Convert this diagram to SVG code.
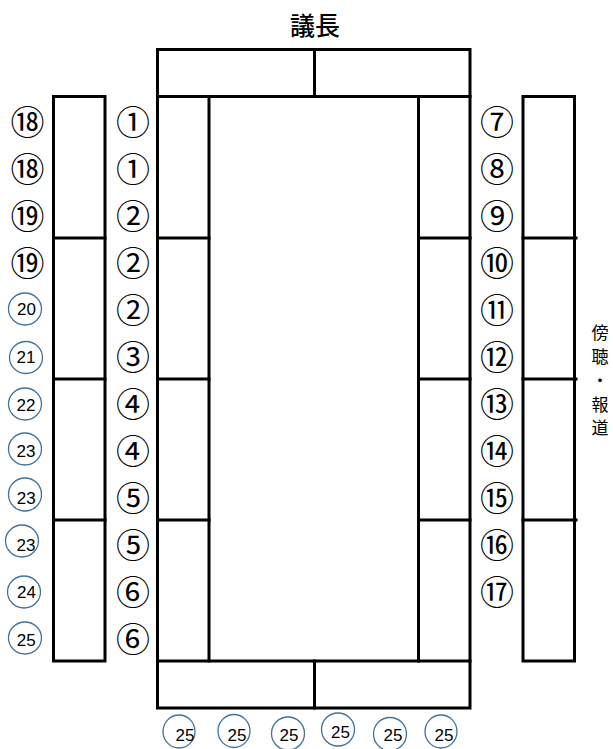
<svg xmlns="http://www.w3.org/2000/svg" width="613" height="749" viewBox="0 0 613 749">
<style>
.ln{fill:none;stroke:#000;stroke-width:3;stroke-linecap:square}
.cn{font-family:"Noto Sans CJK JP","DejaVu Sans",sans-serif;font-size:34px;text-anchor:middle;dominant-baseline:central;fill:#000}
.bc{fill:#fff;stroke:#41719c;stroke-width:1.3}
.bt{font-family:"Liberation Sans",Arial,sans-serif;font-size:17px;text-anchor:middle;fill:#000}
.tt{font-family:"Noto Sans CJK JP",sans-serif;fill:#000}
.gv{font-family:"Noto Sans CJK JP",sans-serif;font-size:17px;text-anchor:middle;fill:#000}
</style>
<rect width="613" height="749" fill="#fff"/>
<g id="title"><text class="tt" x="315" y="35" font-size="25" font-weight="500" text-anchor="middle">議長</text></g>
<g id="gallery">
<text class="gv" x="600" y="339">傍</text>
<text class="gv" x="600" y="363">聴</text>
<text class="gv" x="600" y="387">・</text>
<text class="gv" x="600" y="411">報</text>
<text class="gv" x="600" y="434">道</text>
</g>
<g id="connectors">
<rect class="ln" x="157.5" y="49.5" width="312.5" height="47"/>
<line class="ln" x1="314.5" y1="49.5" x2="314.5" y2="96.5"/>
<rect class="ln" x="157.5" y="661" width="312.5" height="47"/>
<line class="ln" x1="314.5" y1="661" x2="314.5" y2="708"/>
<line class="ln" x1="157.5" y1="96.5" x2="157.5" y2="661"/>
<line class="ln" x1="209" y1="96.5" x2="209" y2="661"/>
<line class="ln" x1="418.5" y1="96.5" x2="418.5" y2="661"/>
<line class="ln" x1="470" y1="96.5" x2="470" y2="661"/>
<line class="ln" x1="157.5" y1="238" x2="209" y2="238"/>
<line class="ln" x1="157.5" y1="379" x2="209" y2="379"/>
<line class="ln" x1="157.5" y1="520" x2="209" y2="520"/>
<line class="ln" x1="418.5" y1="238" x2="470" y2="238"/>
<line class="ln" x1="418.5" y1="379" x2="470" y2="379"/>
<line class="ln" x1="418.5" y1="520" x2="470" y2="520"/>
<rect class="ln" x="53.5" y="96.5" width="51.5" height="564.5"/>
<line class="ln" x1="53.5" y1="238" x2="105" y2="238"/>
<line class="ln" x1="53.5" y1="379" x2="105" y2="379"/>
<line class="ln" x1="53.5" y1="520" x2="105" y2="520"/>
<rect class="ln" x="523" y="96.5" width="51.5" height="564.5"/>
<line class="ln" x1="523" y1="238" x2="576" y2="238"/>
<line class="ln" x1="523" y1="379" x2="576" y2="379"/>
<line class="ln" x1="523" y1="520" x2="576" y2="520"/>
</g>
<g id="seats-left-outer">
<text class="cn" x="27.5" y="120">⑱</text>
<text class="cn" x="27.5" y="167">⑱</text>
<text class="cn" x="27.5" y="214">⑲</text>
<text class="cn" x="27.5" y="261">⑲</text>
<ellipse class="bc" cx="25" cy="309" rx="16.5" ry="16"/><text class="bt" x="26.5" y="315">20</text>
<ellipse class="bc" cx="26" cy="357.5" rx="16.5" ry="16"/><text class="bt" x="26" y="363">21</text>
<ellipse class="bc" cx="25" cy="404" rx="16.5" ry="16"/><text class="bt" x="26" y="411">22</text>
<ellipse class="bc" cx="25" cy="449" rx="16.5" ry="16"/><text class="bt" x="26" y="456.5">23</text>
<ellipse class="bc" cx="25" cy="494.5" rx="16.5" ry="16.5"/><text class="bt" x="26.3" y="504">23</text>
<ellipse class="bc" cx="22" cy="541" rx="16.5" ry="16"/><text class="bt" x="26" y="551">23</text>
<ellipse class="bc" cx="24" cy="592" rx="16.5" ry="16"/><text class="bt" x="26.5" y="598">24</text>
<ellipse class="bc" cx="25" cy="638" rx="16.5" ry="16"/><text class="bt" x="26.3" y="645.5">25</text>
</g>
<g id="seats-left-inner">
<text class="cn" x="133" y="120">①</text>
<text class="cn" x="133" y="167">①</text>
<text class="cn" x="133" y="214">②</text>
<text class="cn" x="133" y="261">②</text>
<text class="cn" x="133" y="308">②</text>
<text class="cn" x="133" y="355">③</text>
<text class="cn" x="133" y="402">④</text>
<text class="cn" x="133" y="449">④</text>
<text class="cn" x="133" y="496">⑤</text>
<text class="cn" x="133" y="543">⑤</text>
<text class="cn" x="133" y="590">⑥</text>
<text class="cn" x="133" y="637">⑥</text>
</g>
<g id="seats-right">
<text class="cn" x="497" y="120">⑦</text>
<text class="cn" x="497" y="167">⑧</text>
<text class="cn" x="497" y="214">⑨</text>
<text class="cn" x="497" y="261">⑩</text>
<text class="cn" x="497" y="308">⑪</text>
<text class="cn" x="497" y="355">⑫</text>
<text class="cn" x="497" y="402">⑬</text>
<text class="cn" x="497" y="449">⑭</text>
<text class="cn" x="497" y="496">⑮</text>
<text class="cn" x="497" y="543">⑯</text>
<text class="cn" x="497" y="590">⑰</text>
</g>
<g id="seats-bottom">
<ellipse class="bc" cx="179" cy="731.5" rx="16" ry="16.5"/><text class="bt" x="185" y="740.5">25</text>
<ellipse class="bc" cx="234" cy="731" rx="16" ry="16.5"/><text class="bt" x="237" y="740.5">25</text>
<ellipse class="bc" cx="288" cy="733.5" rx="16.5" ry="16.5"/><text class="bt" x="289" y="740.5">25</text>
<ellipse class="bc" cx="338" cy="729.5" rx="16.5" ry="16.5"/><text class="bt" x="340.5" y="738">25</text>
<ellipse class="bc" cx="390" cy="734" rx="16.5" ry="16.5"/><text class="bt" x="393" y="740.5">25</text>
<ellipse class="bc" cx="441" cy="731.5" rx="16" ry="16.5"/><text class="bt" x="444" y="740.5">25</text>
</g>
</svg>
